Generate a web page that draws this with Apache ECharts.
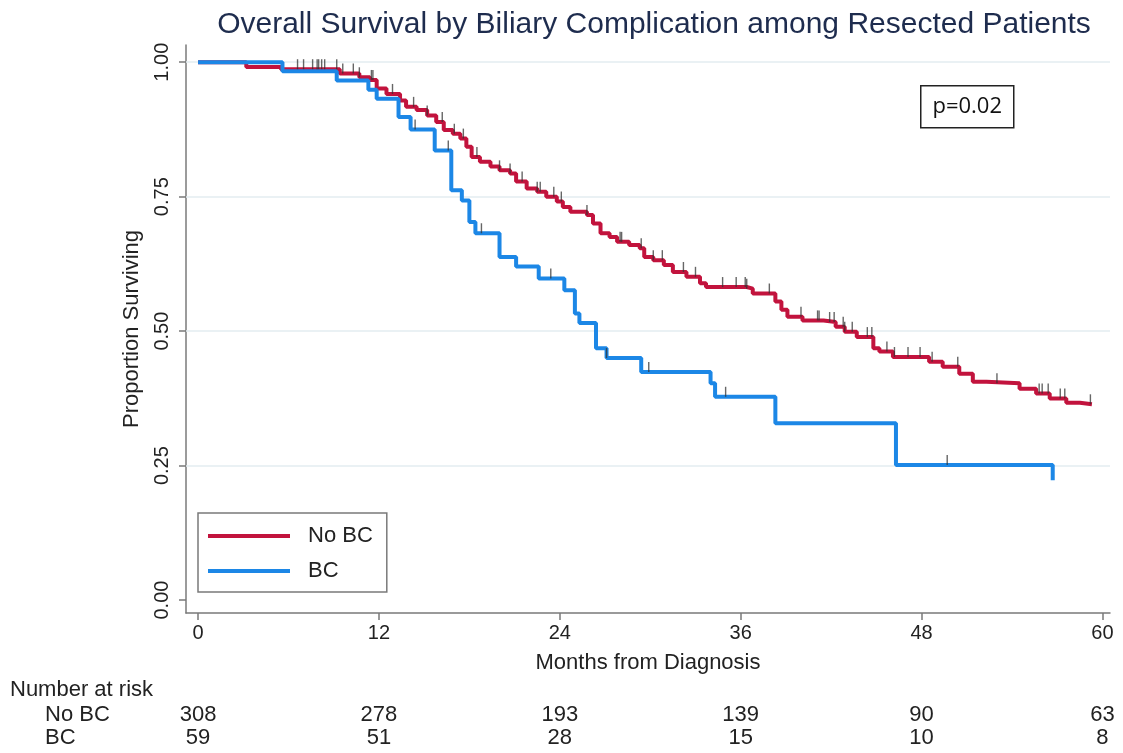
<!DOCTYPE html>
<html>
<head>
<meta charset="utf-8">
<title>Overall Survival by Biliary Complication</title>
<script src="https://cdn.jsdelivr.net/npm/echarts@6/dist/echarts.min.js"></script>
<style>
  html, body { margin: 0; padding: 0; background: #ffffff; }
  #chart { width: 1123px; height: 753px; }
</style>
</head>
<body>
<div id="chart"></div>
<script>
// Kaplan-Meier step points: time (months) and survival after each drop
const noBcTimes = [0, 3.2, 5.5, 9.4, 10.7, 11.4, 11.85, 12.5, 13.4, 13.8, 14.5, 15.2, 15.8, 16.3, 16.9, 17.4,
  17.8, 18.15, 18.7, 19.4, 20.0, 20.7, 21.1, 21.8, 22.5, 23.1, 23.8, 24.2, 24.7, 25.8, 26.2, 26.7, 27.3,
  27.8, 28.6, 29.3, 29.6, 30.2, 30.9, 31.5, 32.4, 33.3, 33.7, 36.4, 36.8, 38.3, 38.7, 39.1, 40.1, 41.5,
  42.3, 42.9, 43.7, 44.8, 45.2, 46.1, 48.5, 49.4, 50.5, 51.4, 52.3, 54.5, 55.6, 56.5, 57.6, 58.5, 59.3];
const noBcSurv = [1.0, 0.991, 0.987, 0.979, 0.972, 0.967, 0.951, 0.941, 0.929, 0.917, 0.911, 0.901, 0.889, 0.874,
  0.867, 0.858, 0.843, 0.824, 0.815, 0.806, 0.799, 0.793, 0.778, 0.765, 0.759, 0.750, 0.741, 0.731, 0.722,
  0.716, 0.700, 0.682, 0.675, 0.666, 0.660, 0.654, 0.638, 0.632, 0.623, 0.610, 0.601, 0.589, 0.582, 0.579,
  0.570, 0.555, 0.540, 0.527, 0.520, 0.517, 0.508, 0.499, 0.489, 0.468, 0.462, 0.452, 0.443, 0.434, 0.421,
  0.406, 0.403, 0.393, 0.384, 0.375, 0.367, 0.364, 0.364];

const bcTimes = [0, 5.6, 9.2, 11.3, 11.85, 13.3, 14.1, 15.7, 16.8, 17.5, 18.0, 18.4, 20.0, 21.1, 22.6,
  24.3, 25.0, 25.3, 26.4, 27.1, 29.4, 34.0, 34.3, 38.3, 46.3, 56.7];
const bcSurv = [1.0, 0.983, 0.966, 0.949, 0.932, 0.898, 0.875, 0.836, 0.762, 0.743, 0.703, 0.682, 0.638, 0.620, 0.598,
  0.576, 0.533, 0.515, 0.468, 0.450, 0.424, 0.403, 0.378, 0.329, 0.251, 0.223];

// Censoring times (drawn as small tick marks on each curve)
const noBcCensored = [6.6, 7.0, 7.6, 7.9, 8.0, 8.2, 8.4, 9.2, 9.6, 10.3, 10.7, 11.5, 11.6, 12.9, 14.3, 15.2,
  16.2, 17.0, 17.6, 18.5, 20.0, 20.7, 21.5, 22.5, 22.7, 23.6, 24.1, 25.8, 28.0, 28.1, 29.4, 30.2, 30.8,
  32.2, 33.0, 34.8, 35.7, 36.3, 36.4, 37.9, 40.0, 41.1, 41.2, 41.9, 42.2, 42.8, 42.9, 43.4, 44.4, 44.7,
  45.7, 46.2, 47.1, 47.9, 48.7, 50.4, 53.0, 55.8, 56.0, 56.4, 57.2, 57.5, 59.2];
const bcCensored = [14.4, 16.6, 18.8, 23.4, 27.1, 29.9, 35.0, 49.7];

// Number-at-risk table
const riskTimes = [0, 12, 24, 36, 48, 60];
const noBcAtRisk = [308, 278, 193, 139, 90, 63];
const bcAtRisk = [59, 51, 28, 15, 10, 8];

const xTicks = [0, 12, 24, 36, 48, 60];
const yTicks = [0, 0.25, 0.5, 0.75, 1.0];
const gridLevels = [0.25, 0.5, 0.75, 1.0];

const RED = '#c2133d';
const BLUE = '#1c87e6';
const FONT = "'Liberation Sans', Arial, sans-serif";

function stepValue(times, surv, t) {
  let v = surv[0];
  for (let i = 0; i < times.length; i++) {
    if (times[i] <= t) v = surv[i]; else break;
  }
  return v;
}
const pairs = (xs, ys) => xs.map((x, i) => [x, ys[i]]);
const censorPoints = (cts, times, surv) => cts.map(t => [t, stepValue(times, surv, t)]);

const chart = echarts.init(document.getElementById('chart'), null, { renderer: 'canvas' });

const tickStyle = {
  type: 'scatter',
  symbol: 'rect',
  symbolSize: [1.4, 10],
  symbolOffset: [0, -5],
  itemStyle: { color: '#333333', opacity: 0.75 },
  silent: true,
  z: 4
};

chart.setOption({
  animation: false,
  backgroundColor: '#ffffff',
  title: {
    text: 'Overall Survival by Biliary Complication among Resected Patients',
    left: 649,
    top: 5,
    textAlign: 'center',
    textStyle: { fontFamily: FONT, fontSize: 30, fontWeight: 'normal', color: '#1e2c4e' }
  },
  grid: { left: 186, right: 13, top: 45, bottom: 140 },
  legend: {
    orient: 'vertical',
    left: 198,
    top: 513,
    padding: [12, 14, 10, 10],
    itemWidth: 82,
    itemHeight: 4,
    itemGap: 13,
    borderColor: '#7a7a7a',
    borderWidth: 1.5,
    textStyle: { fontFamily: FONT, fontSize: 22, color: '#222', padding: [0, 0, 0, 13] },
    data: [{ name: 'No BC', icon: 'rect' }, { name: 'BC', icon: 'rect' }]
  },
  xAxis: {
    type: 'value',
    min: -0.8,
    max: 60.5,
    name: 'Months from Diagnosis',
    nameLocation: 'middle',
    nameGap: 39,
    nameTextStyle: { fontFamily: FONT, fontSize: 22, color: '#222' },
    axisLine: { onZero: false, lineStyle: { color: '#7a7a7a', width: 1.5 } },
    axisTick: { show: true, length: 7, customValues: xTicks, lineStyle: { color: '#7a7a7a', width: 1.5 } },
    axisLabel: { customValues: xTicks, margin: 10, fontFamily: FONT, fontSize: 20, color: '#222' },
    splitLine: { show: false }
  },
  yAxis: {
    type: 'value',
    min: -0.024,
    max: 1.032,
    name: 'Proportion Surviving',
    nameLocation: 'middle',
    nameRotate: 90,
    nameGap: 43,
    nameTextStyle: { fontFamily: FONT, fontSize: 22, color: '#222' },
    axisLine: { show: true, onZero: false, lineStyle: { color: '#7a7a7a', width: 1.5 } },
    axisTick: { show: true, length: 7, customValues: yTicks, lineStyle: { color: '#7a7a7a', width: 1.5 } },
    axisLabel: {
      customValues: yTicks, rotate: 90, margin: 14, fontFamily: FONT, fontSize: 20, color: '#222',
      formatter: v => v.toFixed(2)
    },
    splitLine: { show: false }
  },
  series: [
    {
      name: 'grid',
      type: 'line',
      data: [[0, 1]],
      symbol: 'none',
      lineStyle: { width: 0 },
      silent: true,
      z: 1,
      markLine: {
        z: 1,
        silent: true,
        symbol: 'none',
        label: { show: false },
        lineStyle: { color: '#e3ecf1', width: 1.5, type: 'solid' },
        data: gridLevels.map(v => ({ yAxis: v }))
      }
    },
    {
      name: 'No BC',
      type: 'line',
      step: 'end',
      data: pairs(noBcTimes, noBcSurv),
      symbol: 'none',
      color: RED,
      lineStyle: { color: RED, width: 4 },
      z: 3
    },
    {
      name: 'BC',
      type: 'line',
      step: 'end',
      data: pairs(bcTimes, bcSurv),
      symbol: 'none',
      color: BLUE,
      lineStyle: { color: BLUE, width: 4 },
      z: 3
    },
    Object.assign({ name: 'No BC censored', data: censorPoints(noBcCensored, noBcTimes, noBcSurv) }, tickStyle),
    Object.assign({ name: 'BC censored', data: censorPoints(bcCensored, bcTimes, bcSurv) }, tickStyle)
  ]
});

// Annotation box and number-at-risk table, placed with the chart's x scale
const tableFont = "22px 'Liberation Sans', Arial, sans-serif";
const graphics = [
  {
    type: 'group',
    left: 920,
    top: 85,
    children: [
      { type: 'rect', shape: { x: 0, y: 0, width: 93, height: 42 },
        style: { fill: '#ffffff', stroke: '#222', lineWidth: 1.5 } },
      { type: 'text', x: 46.5, y: 21,
        style: { text: 'p=0.02', font: "22px 'Open Sans', sans-serif", fill: '#111', align: 'center', verticalAlign: 'middle' } }
    ]
  },
  { type: 'text', x: 10, y: 690, style: { text: 'Number at risk', font: tableFont, fill: '#222', verticalAlign: 'middle' } },
  { type: 'text', x: 45, y: 715, style: { text: 'No BC', font: tableFont, fill: '#222', verticalAlign: 'middle' } },
  { type: 'text', x: 45, y: 738, style: { text: 'BC', font: tableFont, fill: '#222', verticalAlign: 'middle' } }
];
riskTimes.forEach((t, i) => {
  const px = chart.convertToPixel({ xAxisIndex: 0 }, t);
  graphics.push({ type: 'text', x: px, y: 715,
    style: { text: String(noBcAtRisk[i]), font: tableFont, fill: '#222', align: 'center', verticalAlign: 'middle' } });
  graphics.push({ type: 'text', x: px, y: 738,
    style: { text: String(bcAtRisk[i]), font: tableFont, fill: '#222', align: 'center', verticalAlign: 'middle' } });
});
chart.setOption({ graphic: graphics });
</script>
</body>
</html>
